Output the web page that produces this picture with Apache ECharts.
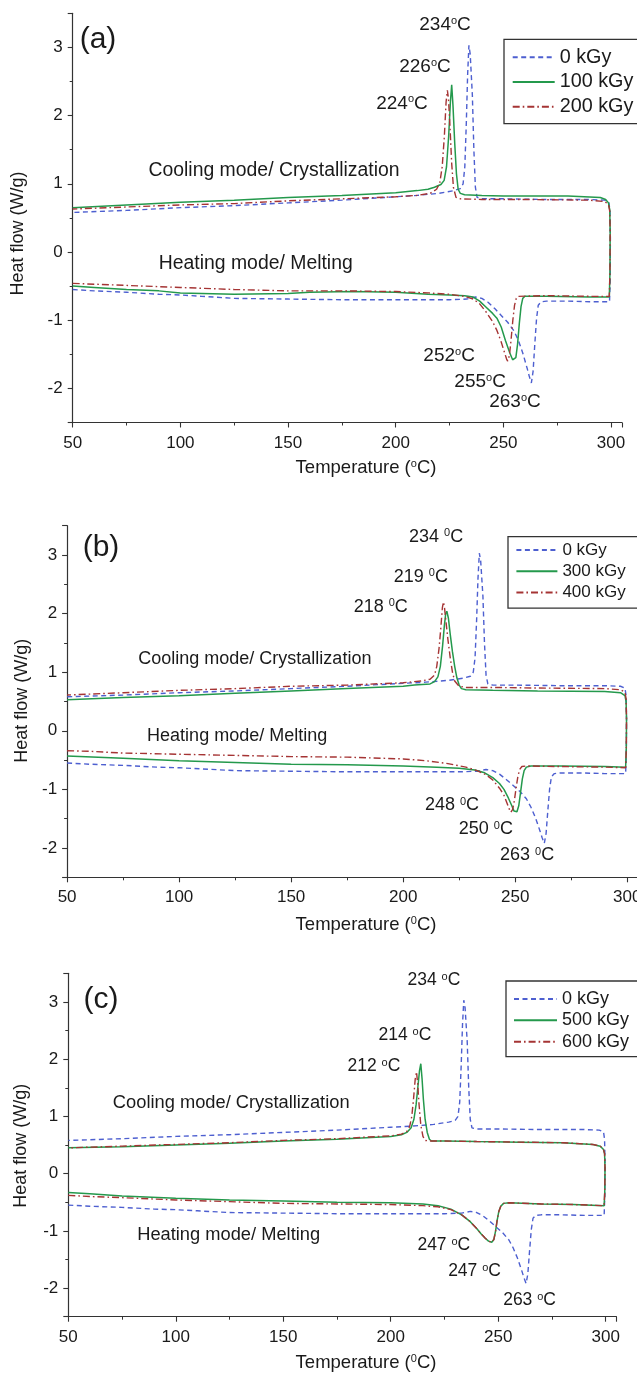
<!DOCTYPE html>
<html>
<head>
<meta charset="utf-8">
<script src="https://cdn.jsdelivr.net/npm/echarts@6/dist/echarts.min.js"></script>
<style>
  html, body { margin: 0; padding: 0; background: #ffffff; }
  #chart { width: 637px; height: 1374px; }
</style>
</head>
<body>
<div id="chart"></div>
<script>
// DSC thermograms: each run is traced heating 50 -> 300 °C (lower branch),
// then the cooling branch 300 -> 50 °C (upper branch). Pairs are [T (°C), heat flow (W/g)].

// Unirradiated reference run, shown in every panel
const dose0 = [
  [50,-0.55],[60,-0.57],[75,-0.59],[90,-0.62],[100,-0.63],[110,-0.65],[125,-0.68],[150,-0.69],
  [175,-0.70],[200,-0.70],[225,-0.70],[233,-0.69],[237,-0.66],[240,-0.68],[243,-0.74],[246,-0.83],
  [249,-0.93],[252,-1.03],[255,-1.16],[257,-1.30],[259,-1.48],[261,-1.70],[262,-1.82],[263,-1.92],
  [263.8,-1.75],[264.6,-1.35],[265.4,-0.98],[266.2,-0.78],[267.5,-0.73],[270,-0.72],[280,-0.72],
  [290,-0.73],[299.3,-0.73],[299.6,-0.40],[299.7,0.20],[299.5,0.60],[299,0.73],[297,0.76],
  [290,0.77],[270,0.77],[250,0.78],[240,0.78],[237.8,0.80],[237,0.95],[236.3,1.50],[235.6,2.30],
  [234.6,2.90],[234,3.03],[233.4,2.60],[232.8,1.90],[232.1,1.25],[231.3,1.00],[230,0.93],
  [227,0.90],[220,0.86],[210,0.83],[200,0.81],[175,0.76],[150,0.72],[125,0.68],[100,0.65],
  [75,0.61],[50,0.58]
];

const dose100 = [
  [50,-0.50],[60,-0.52],[75,-0.55],[90,-0.57],[100,-0.60],[125,-0.62],[150,-0.61],[160,-0.59],
  [180,-0.58],[200,-0.59],[215,-0.62],[225,-0.63],[232,-0.64],[236,-0.66],[239,-0.72],[242,-0.81],
  [245,-0.90],[247,-0.97],[249,-1.10],[251,-1.30],[253,-1.48],[254.3,-1.58],[255,-1.60],
  [255.8,-1.55],[256.6,-1.35],[257.4,-1.05],[258.2,-0.80],[259,-0.68],[260,-0.65],[270,-0.65],
  [290,-0.66],[299.2,-0.66],[299.5,-0.30],[299.6,0.30],[299.4,0.62],[298.8,0.72],[297.5,0.77],
  [295,0.80],[280,0.82],[250,0.82],[240,0.83],[232,0.84],[230,0.86],[229,0.92],[228.2,1.15],
  [227.4,1.60],[226.6,2.15],[226,2.45],[225.4,2.20],[224.6,1.70],[223.6,1.25],[222.5,1.05],
  [221,0.99],[218,0.95],[215,0.92],[210,0.90],[200,0.87],[175,0.83],[150,0.80],[125,0.76],
  [100,0.73],[75,0.69],[50,0.65]
];

const dose200 = [
  [50,-0.46],[75,-0.49],[100,-0.52],[125,-0.55],[150,-0.57],[175,-0.57],[200,-0.58],[215,-0.60],
  [225,-0.62],[232,-0.65],[236,-0.69],[239,-0.76],[242,-0.88],[245,-1.02],[247,-1.15],[249,-1.32],
  [250.5,-1.47],[251.5,-1.57],[252,-1.60],[252.8,-1.52],[253.6,-1.28],[254.4,-1.00],[255.2,-0.78],
  [256,-0.68],[257,-0.65],[270,-0.64],[290,-0.65],[299.2,-0.65],[299.5,-0.30],[299.6,0.30],
  [299.4,0.60],[298.8,0.70],[297,0.74],[290,0.76],[260,0.77],[240,0.77],[230,0.78],[228,0.80],
  [226.8,0.95],[226,1.30],[225.2,1.85],[224.5,2.25],[224,2.37],[223.4,2.20],[222.6,1.70],
  [221.6,1.25],[220.5,1.02],[219,0.92],[216,0.86],[210,0.83],[200,0.81],[175,0.78],[150,0.75],
  [125,0.71],[100,0.69],[75,0.66],[50,0.63]
];

const dose300 = [
  [50,-0.43],[75,-0.47],[100,-0.51],[125,-0.54],[150,-0.57],[175,-0.58],[200,-0.60],[215,-0.62],
  [225,-0.64],[232,-0.67],[236,-0.71],[240,-0.80],[243,-0.90],[245,-1.00],[247,-1.15],[248.5,-1.28],
  [249.5,-1.37],[250,-1.40],[250.8,-1.38],[251.6,-1.28],[252.4,-1.05],[253.2,-0.82],[254,-0.68],
  [255,-0.62],[257,-0.60],[270,-0.60],[290,-0.61],[299.3,-0.62],[299.6,-0.30],[299.7,0.20],
  [299.5,0.50],[299,0.60],[297,0.65],[290,0.67],[260,0.68],[240,0.69],[228,0.70],[226,0.72],
  [225,0.78],[224,0.90],[223,1.10],[222,1.35],[221,1.65],[220.2,1.92],[219.5,2.04],[219,2.00],
  [218.4,1.80],[217.6,1.45],[216.6,1.10],[215.5,0.92],[214,0.84],[212,0.80],[205,0.78],
  [200,0.76],[175,0.72],[150,0.68],[125,0.64],[100,0.60],[75,0.57],[50,0.53]
];

const dose400 = [
  [50,-0.34],[60,-0.35],[75,-0.38],[100,-0.40],[125,-0.42],[150,-0.44],[175,-0.45],[200,-0.48],
  [210,-0.51],[220,-0.56],[228,-0.62],[233,-0.68],[237,-0.75],[240,-0.84],[243,-0.98],[245,-1.10],
  [246.5,-1.25],[247.5,-1.35],[248,-1.39],[248.8,-1.35],[249.6,-1.20],[250.4,-0.98],[251.2,-0.78],
  [252,-0.66],[253,-0.61],[255,-0.60],[270,-0.61],[290,-0.62],[299.3,-0.63],[299.6,-0.30],
  [299.7,0.20],[299.5,0.55],[299,0.66],[297,0.70],[290,0.72],[260,0.73],[240,0.74],[228,0.74],
  [225,0.76],[223,0.85],[222,1.00],[221,1.25],[220,1.55],[219,1.90],[218.4,2.12],[218,2.20],
  [217.5,2.10],[216.8,1.75],[216,1.40],[215,1.10],[214,0.95],[212,0.88],[208,0.85],[200,0.82],
  [175,0.78],[150,0.76],[125,0.72],[100,0.69],[75,0.65],[50,0.61]
];

const dose500 = [
  [50,-0.33],[60,-0.35],[75,-0.39],[100,-0.43],[125,-0.46],[150,-0.48],[175,-0.50],[200,-0.51],
  [215,-0.53],[222,-0.56],[228,-0.62],[233,-0.72],[237,-0.84],[240,-0.96],[242,-1.05],[244,-1.13],
  [245.5,-1.18],[247,-1.20],[248,-1.15],[248.8,-1.00],[249.5,-0.82],[250.3,-0.66],[251.2,-0.57],
  [252.5,-0.52],[255,-0.51],[270,-0.53],[285,-0.54],[299.3,-0.56],[299.6,-0.30],[299.7,0.10],
  [299.5,0.35],[299,0.42],[297.5,0.48],[294,0.51],[280,0.54],[260,0.55],[240,0.56],[225,0.57],
  [219,0.57],[218,0.60],[217,0.72],[216,0.95],[215.2,1.30],[214.6,1.65],[214,1.92],[213.4,1.80],
  [212.6,1.50],[211.8,1.20],[210.8,0.95],[209.5,0.80],[207.5,0.72],[205,0.68],[200,0.65],
  [175,0.60],[150,0.57],[125,0.53],[100,0.50],[75,0.47],[50,0.45]
];

const dose600 = [
  [50,-0.38],[60,-0.40],[75,-0.42],[100,-0.46],[125,-0.49],[150,-0.52],[175,-0.53],[200,-0.54],
  [215,-0.56],[222,-0.58],[228,-0.63],[233,-0.72],[237,-0.84],[240,-0.96],[242,-1.05],[244,-1.13],
  [245.5,-1.18],[247,-1.20],[248,-1.15],[248.8,-1.00],[249.5,-0.82],[250.3,-0.66],[251.2,-0.57],
  [252.5,-0.52],[255,-0.51],[270,-0.53],[285,-0.54],[299.3,-0.56],[299.6,-0.30],[299.7,0.10],
  [299.5,0.35],[299,0.42],[297.5,0.48],[294,0.51],[280,0.54],[260,0.55],[240,0.56],[225,0.57],
  [218,0.57],[216,0.58],[215,0.65],[214,0.85],[213.2,1.20],[212.6,1.55],[212,1.78],[211.4,1.65],
  [210.6,1.30],[209.8,1.00],[208.8,0.82],[207.5,0.74],[205,0.69],[200,0.66],[175,0.61],
  [150,0.58],[125,0.54],[100,0.51],[75,0.48],[50,0.45]
];

// Peak temperature labels per panel: [label °C, anchor T, anchor heat flow]
const peaksA = [['234', 222.9, 3.33], ['226', 213.6, 2.72], ['224', 202.9, 2.18],
                ['252', 224.8, -1.525], ['255', 239.2, -1.90], ['263', 255.4, -2.195]];
const peaksB = [['234', 214.7, 3.31], ['219', 207.9, 2.63], ['218', 190.0, 2.12],
                ['248', 221.8, -1.27], ['250', 236.9, -1.68], ['263', 255.3, -2.12]];
const peaksC = [['234', 220.1, 3.38], ['214', 206.6, 2.42], ['212', 192.2, 1.87],
                ['247', 224.7, -1.25], ['247', 239.0, -1.71], ['263', 264.6, -2.21]];

// Branch captions per panel: [text, anchor T, anchor heat flow]
const modesA = [['Cooling mode/ Crystallization', 143.5, 1.19], ['Heating mode/ Melting', 135.0, -0.17]];
const modesB = [['Cooling mode/ Crystallization', 133.8, 1.22], ['Heating mode/ Melting', 125.9, -0.09]];
const modesC = [['Cooling mode/ Crystallization', 125.8, 1.23], ['Heating mode/ Melting', 124.6, -1.07]];

const FONT = '"Liberation Sans", Arial, Helvetica, sans-serif';
const INK = '#1a1a1a';
const CLEAR = 'rgba(0,0,0,0)';

const STYLE = {
  blue:  { color: '#4d5fd0', type: [5, 3.5], width: 1.4 },
  green: { color: '#24994c', type: 'solid', width: 1.5 },
  red:   { color: '#a53434', type: [7, 3, 1.6, 3], width: 1.4 }
};

const panels = [
  {
    grid: { left: 72.7, top: 13.3, width: 549.1, height: 409.2 },
    runs: [['0 kGy', dose0, 'blue'], ['100 kGy', dose100, 'green'], ['200 kGy', dose200, 'red']],
    peaks: peaksA, modes: modesA, noteSize: 19, modeSize: 19.4, spaced: false, sup: 'o',
    legend: { left: 504, top: 39.3, itemWidth: 42, itemGap: 4.7, fontSize: 19.8, padding: [8, 10, 7, 7.7] },
    letter: ['(a)', 98, 40], xTitle: [366, 468, 'o'], yTitle: [18.3, 233.5]
  },
  {
    grid: { left: 67.1, top: 525.7, width: 571.3, height: 351.6 },
    runs: [['0 kGy', dose0, 'blue'], ['300 kGy', dose300, 'green'], ['400 kGy', dose400, 'red']],
    peaks: peaksB, modes: modesB, noteSize: 18, modeSize: 18, spaced: true, sup: '0',
    legend: { left: 508, top: 536.7, itemWidth: 41, itemGap: 4.3, fontSize: 17, padding: [4.8, 14, 7, 7.4] },
    letter: ['(b)', 101, 548], xTitle: [366, 925, '0'], yTitle: [22.4, 700.8]
  },
  {
    grid: { left: 68.3, top: 973.3, width: 548.1, height: 343.4 },
    runs: [['0 kGy', dose0, 'blue'], ['500 kGy', dose500, 'green'], ['600 kGy', dose600, 'red']],
    peaks: peaksC, modes: modesC, noteSize: 17.5, modeSize: 18.3, spaced: true, sup: 'o',
    legend: { left: 506, top: 981, itemWidth: 43, itemGap: 3.35, fontSize: 18, padding: [9, 12, 6, 7] },
    letter: ['(c)', 101, 1000], xTitle: [366, 1363, '0'], yTitle: [21, 1145.8]
  }
];

const grids = [], xAxes = [], yAxes = [], series = [], legends = [], graphics = [];

const axisCommon = {
  axisLine: { show: true, onZero: false, lineStyle: { color: '#333', width: 1.2 } },
  axisTick: { show: true, inside: false, length: 5, lineStyle: { color: '#333', width: 1.1 } },
  minorTick: { show: true, splitNumber: 2, length: 3, lineStyle: { color: '#333', width: 1 } },
  splitLine: { show: false },
  minorSplitLine: { show: false }
};

panels.forEach((p, i) => {
  grids.push(Object.assign({ containLabel: false, outerBoundsMode: 'none' }, p.grid));

  xAxes.push(Object.assign({}, axisCommon, {
    type: 'value', gridIndex: i, min: 50, max: 305, interval: 50,
    axisLabel: {
      margin: 12, fontSize: 17, color: INK, fontFamily: FONT, hideOverlap: false,
      formatter: v => (Math.abs(v % 50) < 1e-6 && v <= 300 ? String(v) : '')
    }
  }));

  yAxes.push(Object.assign({}, axisCommon, {
    type: 'value', gridIndex: i, min: -2.5, max: 3.5, splitNumber: 6,
    axisLabel: {
      margin: 10, fontSize: 17, color: INK, fontFamily: FONT,
      formatter: v => (Math.abs(v - Math.round(v)) < 1e-6 ? String(Math.round(v)) : '')
    }
  }));

  p.runs.forEach(([name, data, kind], k) => {
    const s = STYLE[kind];
    series.push({
      type: 'line', name, data, xAxisIndex: i, yAxisIndex: i,
      symbol: 'none', showSymbol: false, color: s.color, silent: true,
      lineStyle: { color: s.color, type: s.type, width: s.width },
      z: 2 + k
    });
  });

  const richFor = size => ({
    n: { fontSize: size, fontFamily: FONT, color: INK, lineHeight: size },
    s: { fontSize: Math.round(size * 0.6), fontFamily: FONT, color: INK, verticalAlign: 'top',
         lineHeight: Math.round(size * 0.6) }
  });

  series.push({
    type: 'scatter', xAxisIndex: i, yAxisIndex: i, symbolSize: 1, silent: true,
    itemStyle: { color: CLEAR, opacity: 1 }, z: 6,
    data: p.peaks.map(([t, x, y]) => ({
      value: [x, y],
      label: { formatter: '{n|' + t + (p.spaced ? ' ' : '') + '}{s|' + p.sup + '}{n|C}' }
    })),
    label: { show: true, position: 'inside', color: INK, opacity: 1, textBorderWidth: 0,
             rich: richFor(p.noteSize) },
    labelLayout: { hideOverlap: false }
  });

  series.push({
    type: 'scatter', xAxisIndex: i, yAxisIndex: i, symbolSize: 1, silent: true,
    itemStyle: { color: CLEAR, opacity: 1 }, z: 6,
    data: p.modes.map(([text, x, y]) => ({ value: [x, y], label: { formatter: text } })),
    label: { show: true, position: 'inside', fontSize: p.modeSize, fontFamily: FONT, color: INK,
             opacity: 1, textBorderWidth: 0 },
    labelLayout: { hideOverlap: false }
  });

  const lg = p.legend;
  legends.push({
    orient: 'vertical', left: lg.left, top: lg.top, padding: lg.padding,
    itemWidth: lg.itemWidth, itemHeight: 12, itemGap: lg.itemGap,
    borderColor: '#333', borderWidth: 1.3, backgroundColor: '#fff',
    selectedMode: false,
    itemStyle: { color: CLEAR, borderColor: CLEAR, borderWidth: 0, opacity: 0 },
    data: p.runs.map(r => r[0]),
    textStyle: { fontSize: lg.fontSize, lineHeight: lg.fontSize, fontFamily: FONT, color: INK }
  });

  graphics.push({
    type: 'text', x: p.letter[1], y: p.letter[2], silent: true,
    style: { text: p.letter[0], fontSize: 30, fontFamily: FONT, fill: INK,
             align: 'center', verticalAlign: 'middle', textAlign: 'center', textVerticalAlign: 'middle' }
  });

  graphics.push({
    type: 'text', x: p.xTitle[0], y: p.xTitle[1], silent: true,
    style: {
      text: '{n|Temperature (}{s|' + p.xTitle[2] + '}{n|C)}',
      align: 'center', verticalAlign: 'middle', textAlign: 'center', textVerticalAlign: 'middle',
      rich: {
        n: { fontSize: 18.5, fontFamily: FONT, fill: INK, lineHeight: 19 },
        s: { fontSize: 11, fontFamily: FONT, fill: INK, verticalAlign: 'top', lineHeight: 11 }
      }
    }
  });

  graphics.push({
    type: 'text', x: p.yTitle[0], y: p.yTitle[1], rotation: Math.PI / 2, silent: true,
    style: { text: 'Heat flow (W/g)', fontSize: 18, fontFamily: FONT, fill: INK,
             align: 'center', verticalAlign: 'middle', textAlign: 'center', textVerticalAlign: 'middle' }
  });
});

const chart = echarts.init(document.getElementById('chart'), null, { renderer: 'canvas' });
chart.setOption({
  animation: false,
  backgroundColor: '#ffffff',
  grid: grids,
  xAxis: xAxes,
  yAxis: yAxes,
  legend: legends,
  series: series,
  graphic: graphics
});
</script>
</body>
</html>
